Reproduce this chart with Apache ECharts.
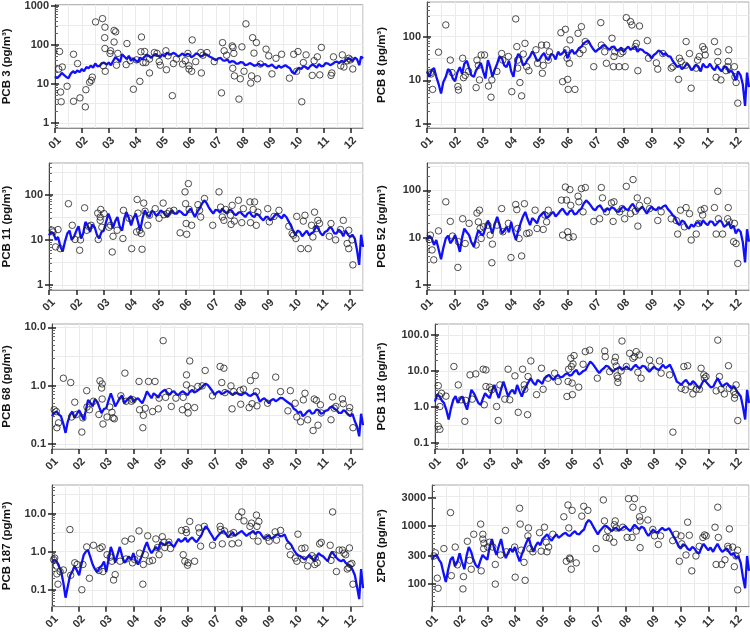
<!DOCTYPE html>
<html><head><meta charset="utf-8">
<script src="https://cdn.jsdelivr.net/npm/echarts@6/dist/echarts.min.js"></script>
<style>html,body{margin:0;padding:0;background:#fff}#c{width:750px;height:632px}</style>
</head><body><div id="c"></div>
<script>
// ---- tick labels ----
const monthTicks = [1,2,3,4,5,6,7,8,9,10,11,12];
const monthLabels = ['01','02','03','04','05','06','07','08','09','10','11','12'];

// ---- model line dates (month index) ----
const lineX = [
  1,1.08,1.17,1.25,1.33,1.42,1.5,1.58,1.67,1.75,1.83,1.92,
  2,2.08,2.17,2.25,2.33,2.42,2.5,2.58,2.67,2.75,2.83,2.92,
  3,3.08,3.17,3.25,3.33,3.42,3.5,3.58,3.67,3.75,3.83,3.92,
  4,4.08,4.17,4.25,4.33,4.42,4.5,4.58,4.67,4.75,4.83,4.92,
  5,5.08,5.17,5.25,5.33,5.42,5.5,5.58,5.67,5.75,5.83,5.92,
  6,6.08,6.17,6.25,6.33,6.42,6.5,6.58,6.67,6.75,6.83,6.92,
  7,7.08,7.17,7.25,7.33,7.42,7.5,7.58,7.67,7.75,7.83,7.92,
  8,8.08,8.17,8.25,8.33,8.42,8.5,8.58,8.67,8.75,8.83,8.92,
  9,9.08,9.17,9.25,9.33,9.42,9.5,9.58,9.67,9.75,9.83,9.92,
  10,10.08,10.17,10.25,10.33,10.42,10.5,10.58,10.67,10.75,10.83,10.92,
  11,11.08,11.17,11.25,11.33,11.42,11.5,11.58,11.67,11.75,11.83,11.92,
  12,12.08,12.17,12.25,12.33,12.4,12.47];

// ---- model lines (pg/m3), one row per month ----
const pcb3Line = [
  15.5,14,16,19,17,15,14,18,21,19,22,20,
  24,21,27,25,29,26,33,28,29,34,35,31,
  35,30,39,48,43,36,57,50,43,52,39,45,
  40,36,47,42,49,55,52,46,54,58,52,48,
  57,50,63,56,57,62,57,50,54,60,52,58,
  57,48,52,60,57,50,52,58,55,50,47,43,
  40,45,46,40,39,42,35,38,37,33,33,36,
  35,30,31,34,32,29,30,33,29,31,32,28,
  29,31,27,25,29,26,28,30,27,25,20,18,
  22,26,24,28,27,24,28,31,29,26,32,28,
  29,34,33,30,32,36,37,34,39,36,40,44,
  43,38,47,42,30,50,45];
const pcb8Line = [
  16,12,17.3,19,12.2,8,5,9,12,18,16,11,
  9.5,15,20,14,24,28,19,13,12,17,20,25,
  16,11,29,20,12,18,24,35,32,22,20,28,
  16,12,29,40,35,22,24,30,35,46,38,28,
  29,36,42,32,29,40,38,30,45,38,42,50,
  32,42,50,40,45,55,59,70,77,80,64,52,
  45,50,54,62,64,55,50,58,59,48,50,56,
  45,52,59,50,54,60,45,52,50,44,42,38,
  32,38,42,48,45,38,42,36,35,28,24,20,
  22,18,20,24,22,17,19,23,20,16,24,20,
  20,24,19,17,22,18,16,21,20,15,17,14,
  10,16,13,8,2.6,15,7];
const pcb11Line = [
  12.6,15,13.8,10,11.6,7,5.5,9,13.8,16,10,12,
  16,20,10.7,14,25,20,15,22,19,13,10.7,15,
  16,24,38,28,18,26,32,20,16,30,41,30,
  21,30,38,25,16,30,45,36,32,44,41,34,
  38,45,41,36,32,40,45,38,38,44,41,36,
  35,42,49,40,32,42,49,62,75,66,53,44,
  38,46,45,40,49,42,38,46,45,38,35,40,
  41,36,32,38,41,34,32,38,35,30,27,32,
  32,27,30,35,38,33,30,36,32,26,21,16,
  12.6,16,15,12,13.8,16,12.6,14,15,20,18,14,
  12.6,15,16,19,18,14,13.8,17,15,12,16,13,
  11.6,13,10.7,6,2.8,13,7];
const pcb52Line = [
  8.9,11,9.6,7,8.9,5.5,3.5,6,9.6,11,7.6,9,
  11.3,8,5,10,15.5,13,11.3,8,6.4,10,14.4,12,
  11.3,16,23,17,12.2,20,27.5,19,12.2,14,16.9,13,
  21.5,13,8.9,14,19.9,28,34.9,25,18.4,26,23.3,20,
  27.5,31,34.9,26,27.5,32,34.9,28,32,37,41,34,
  30,36,38,31,32,38,41,52,61,55,48,40,
  38,45,48,40,35,42,38,44,41,36,35,42,
  45,40,38,46,52,42,35,40,45,38,32,40,
  45,40,38,44,41,46,48,40,35,30,27.5,20,
  18.4,23,21.5,17,15.5,19,16.9,20,21.5,18,23.3,20,
  18.4,22,21.5,18,19.9,23,21.5,17,18.4,21,15.5,18,
  12.2,15,13.3,8,3.0,15,8.2];
const pcb68Line = [
  0.30,0.34,0.36,0.32,0.30,0.22,0.155,0.24,0.32,0.36,0.28,0.33,
  0.38,0.32,0.26,0.38,0.57,0.50,0.44,0.58,0.53,0.42,0.34,0.40,
  0.41,0.55,0.74,0.58,0.44,0.52,0.61,0.68,0.5,0.56,0.61,0.66,
  0.53,0.58,0.61,0.55,0.5,0.62,0.8,0.70,0.61,0.74,0.69,0.62,
  0.74,0.80,0.85,0.76,0.69,0.78,0.8,0.72,0.69,0.76,0.8,0.74,
  0.69,0.78,0.85,0.76,0.8,0.86,0.91,1.0,1.08,1.02,0.91,0.80,
  0.69,0.76,0.8,0.72,0.74,0.80,0.8,0.74,0.69,0.76,0.74,0.70,
  0.69,0.75,0.74,0.68,0.67,0.72,0.74,0.66,0.53,0.58,0.61,0.55,
  0.5,0.56,0.59,0.54,0.57,0.62,0.61,0.57,0.53,0.50,0.47,0.40,
  0.38,0.34,0.36,0.30,0.32,0.36,0.38,0.33,0.34,0.39,0.38,0.33,
  0.34,0.37,0.38,0.42,0.44,0.40,0.38,0.34,0.34,0.38,0.36,0.32,
  0.30,0.33,0.245,0.20,0.135,0.33,0.21];
const pcb118Line = [
  1.42,2.2,1.96,1.5,1.29,0.8,0.45,0.9,1.6,2.0,1.29,1.7,
  1.96,1.3,0.84,1.6,3,2.4,1.77,1.3,1.15,1.7,2.4,2.0,
  1.77,2.8,4.1,2.6,1.77,3.2,5.1,3.3,1.96,2.6,3,2.3,
  4.1,2.8,1.96,2.8,3.7,5.0,6.3,4.8,4.1,5.6,5.1,4.4,
  6.3,7.0,7.8,6.4,5.7,7.0,7.8,6.6,7,8.0,8.7,7.4,
  7.8,9.5,10.7,8.0,8.7,10.0,10.7,14.0,18.2,16.0,13.3,10.5,
  8.7,10.5,11.9,14.0,13.3,11.0,9.6,11.0,11.9,13.0,10.7,12.0,
  13.3,11.5,10.7,13.0,14.8,12.5,11.9,14.0,13.3,11.0,9.6,11.5,
  13.3,11.5,10.7,12.5,14.8,12.0,13.3,15.0,10.7,7.5,5.1,4.6,
  4.1,5.0,5.7,4.6,4.1,5.2,4.6,3.8,3.3,4.5,5.7,4.8,
  4.1,3.5,3.7,5.0,6.3,4.6,3.7,4.2,4.6,3.8,3.3,3.8,
  3,2.4,1.96,1.0,0.45,3.0,1.29];
const pcb187Line = [
  0.51,0.62,0.56,0.42,0.32,0.15,0.062,0.12,0.24,0.30,0.42,0.32,
  0.24,0.45,0.82,1.0,1.1,0.7,0.46,0.35,0.29,0.38,0.42,0.55,
  0.29,0.6,1.33,0.9,0.51,0.85,1.33,0.8,0.51,0.6,0.75,0.62,
  0.91,0.6,0.46,0.6,0.82,1.3,1.78,1.2,0.91,1.1,1.33,1.1,
  1.78,1.6,1.47,1.7,1.78,1.5,1.33,1.7,2.15,1.8,1.96,2.3,
  1.78,2.1,2.37,2.0,1.78,2.2,2.6,3.6,4.6,4.0,3.16,2.5,
  1.96,2.4,2.87,3.2,3.5,2.9,2.37,2.8,3.16,2.6,2.87,3.2,
  3.5,3.0,2.6,2.9,3.16,3.5,2.87,3.3,3.16,2.6,2.15,2.5,
  2.6,2.2,2.37,2.7,2.87,2.5,2.6,2.8,1.96,1.7,1.47,1.1,
  0.91,0.8,0.75,0.68,0.62,0.72,0.82,0.68,0.56,0.72,0.91,0.8,
  0.75,0.65,0.56,0.8,1.0,0.8,0.68,0.6,0.56,0.62,0.51,0.45,
  0.42,0.34,0.24,0.12,0.057,0.35,0.11];
const sumLine = [
  258,300,312,260,228,150,107,170,258,290,200,240,
  333,240,177,300,428,350,258,210,188,250,312,280,
  258,420,588,400,312,450,588,380,276,340,402,350,
  428,320,243,320,402,520,626,450,354,450,518,460,
  588,640,710,600,552,640,710,620,667,720,757,680,
  667,740,806,720,710,800,859,1100,1256,1150,975,820,
  710,820,915,1000,975,870,806,880,915,820,859,940,
  975,880,806,920,1038,940,859,960,915,760,667,760,
  859,780,757,850,915,840,859,900,757,640,552,440,
  402,480,456,400,377,430,402,350,333,420,486,420,
  377,420,354,420,486,400,354,380,402,350,312,340,
  276,300,228,130,83,300,166];

// ---- observations [month, pg/m3] ----
const pcb3Obs = [[1.17,67],[1.14,24],[1.27,27],[1.21,6.2],[1.23,3.5],[1.45,8.7],[1.69,57],[1.69,3.6],[1.84,33],[1.93,4.4],[2.13,2.6],[2.15,7.1],[2.29,11],[2.35,12.3],[2.39,14.9],[2.51,381],[2.77,462],[2.86,280],[2.85,151],[2.86,80],[2.87,21],[2.80,29],[3.05,60],[3.07,70],[3.20,231],[3.26,213],[3.20,117],[3.29,30],[3.34,60],[3.68,107],[3.65,31],[3.80,39],[3.92,7.3],[4.04,41],[4.16,11.6],[4.22,157],[4.20,66],[4.28,35],[4.34,67],[4.38,35],[4.52,19],[4.52,43],[4.70,63],[4.80,60],[4.88,37],[4.92,30],[5.13,70],[5.15,23],[5.21,52],[5.37,5],[5.41,33],[5.52,43],[5.75,32],[5.85,39],[5.95,60],[5.99,29],[5.99,24],[6.09,21],[6.11,132],[6.24,37],[6.43,63],[6.45,19],[6.51,54],[6.66,63],[6.93,37],[7.20,5.9],[7.24,113],[7.30,70],[7.39,54],[7.60,93],[7.63,85],[7.62,25],[7.68,16],[7.66,60],[7.90,13.5],[7.85,4.1],[7.96,88],[8.04,21],[8.11,340],[8.29,10.5],[8.32,16],[8.36,151],[8.41,61],[8.50,113],[8.54,13.5],[8.65,32],[8.86,77],[8.96,52],[9.08,18],[9.23,45],[9.44,57],[9.73,14],[9.89,57],[10.0,21],[10.05,67],[10.19,3.5],[10.25,35],[10.35,55],[10.58,16.5],[10.65,39],[10.77,49],[10.86,17],[10.92,85],[11.28,16.5],[11.31,19],[11.37,49],[11.64,29],[11.70,55],[11.76,27],[11.88,39],[11.94,45],[12.00,41],[12.09,24]];
const pcb8Obs = [[1.12,15],[1.15,14],[1.20,6.2],[1.41,44],[1.67,185],[1.83,29],[1.89,15],[2.10,7.2],[2.12,6],[2.27,32],[2.30,11.5],[2.36,13],[2.48,16],[2.75,6.8],[2.78,29],[2.83,22],[2.87,10.2],[2.93,38],[3.05,38],[3.19,7.4],[3.28,4.1],[3.31,10.2],[3.49,16],[3.66,41],[3.70,29],[3.90,35],[4.02,5.5],[4.16,254],[4.20,59],[4.23,29],[4.23,19],[4.31,8.9],[4.37,4.4],[4.43,40],[4.49,70],[4.55,20.5],[4.63,16.6],[4.88,50],[4.94,24.5],[5.08,64],[5.11,14.5],[5.14,22],[5.26,64],[5.32,29],[5.36,45],[5.77,123],[5.83,9.3],[5.93,147],[5.97,50],[5.99,32],[6.01,10.5],[6.03,6.2],[6.07,24.5],[6.09,84],[6.27,6.2],[6.38,119],[6.44,41],[6.50,169],[6.56,50],[6.64,77],[6.94,20.5],[7.19,209],[7.21,64],[7.33,45],[7.39,24.5],[7.59,92],[7.64,20.5],[7.66,35],[7.69,45],[7.84,20.5],[7.90,41],[7.98,45],[8.06,20.5],[8.10,272],[8.25,221],[8.30,185],[8.42,59],[8.46,70],[8.51,16.6],[8.57,175],[8.85,81],[8.89,32],[9.17,25],[9.22,18],[9.40,41],[9.70,19],[9.76,20.5],[9.96,10.5],[9.99,32],[10.05,27],[10.21,22],[10.23,77],[10.35,41],[10.41,6.6],[10.59,19],[10.64,29],[10.70,35],[10.82,59],[10.88,51],[10.91,38],[11.24,77],[11.30,11.7],[11.36,45],[11.36,27],[11.47,10.2],[11.65,16.6],[11.71,20.5],[11.73,27],[11.75,50],[11.95,20.5],[11.97,12],[12.01,8.9],[12.07,3.0]];
const pcb11Obs = [[1.12,16.3],[1.15,15],[1.24,7],[1.33,16.9],[1.41,6.4],[1.71,63],[1.85,21],[1.95,10.2],[2.12,5.9],[2.15,10],[2.30,51],[2.38,16.3],[2.44,20],[2.54,21],[2.78,39],[2.80,10.2],[2.87,32],[2.87,27],[2.89,47],[2.93,19],[3.01,38],[3.19,19],[3.25,21],[3.31,5.4],[3.34,12],[3.49,16.3],[3.70,10.7],[3.72,45],[3.93,30],[4.02,6.4],[4.20,15],[4.22,78],[4.25,39],[4.31,16.3],[4.37,13.8],[4.40,6.2],[4.46,65],[4.51,43],[4.61,21],[4.67,35],[4.88,49],[5.02,30],[5.17,65],[5.20,36],[5.32,38],[5.40,43],[5.56,45],[5.79,14.3],[5.97,115],[5.99,63],[6.01,23],[6.03,13.3],[6.09,175],[6.12,47],[6.21,21],[6.44,60],[6.50,45],[6.54,32],[6.68,82],[6.98,21],[7.21,115],[7.27,53],[7.33,32],[7.39,27],[7.45,47],[7.63,35],[7.65,22],[7.69,58],[7.77,26],[7.92,75],[8.04,24],[8.10,49],[8.34,69],[8.36,24],[8.46,47],[8.51,69],[8.57,21],[8.63,41],[8.99,49],[9.05,25],[9.22,33],[9.40,45],[9.76,20],[9.88,13.8],[9.93,12.7],[10.02,10.7],[10.05,33],[10.20,6.4],[10.29,26],[10.35,35],[10.47,6.4],[10.59,21],[10.64,11.6],[10.70,41],[10.76,17.8],[10.82,27],[10.88,23],[11.24,12],[11.30,23],[11.47,10],[11.65,16.9],[11.75,27],[11.89,8.3],[11.95,16.3],[11.95,6.4],[12.07,10],[12.10,2.8]];
const pcb52Obs = [[1.08,9.1],[1.12,11.3],[1.18,5.5],[1.24,3.4],[1.41,13.9],[1.67,57],[1.83,22],[1.91,10.8],[2.10,2.35],[2.12,8.2],[2.27,25],[2.36,7.5],[2.50,20],[2.75,7],[2.78,33],[2.83,21.5],[2.87,38],[2.89,15.6],[2.93,9.6],[3.01,16.9],[3.17,18.3],[3.25,11.3],[3.31,2.95],[3.33,7.3],[3.49,18.3],[3.66,41],[3.70,13.3],[3.90,20],[3.99,3.8],[4.16,50],[4.20,39],[4.23,15.6],[4.28,9.6],[4.37,4.1],[4.47,52],[4.55,12.2],[4.64,12.6],[4.85,38],[4.92,15.6],[5.14,14.9],[5.20,30],[5.26,21.5],[5.32,38],[5.79,62],[5.83,11.3],[5.93,117],[5.97,62],[6.01,13.3],[6.05,10.1],[6.09,103],[6.12,48],[6.21,10.4],[6.38,75],[6.41,57],[6.50,108],[6.56,35],[6.64,114],[6.94,22],[7.15,25],[7.21,114],[7.25,69],[7.39,35],[7.57,54],[7.63,22],[7.66,57],[7.86,35],[7.95,41],[8.04,25],[8.10,121],[8.25,32],[8.34,168],[8.42,36],[8.49,69],[8.51,17.5],[8.57,48],[8.85,60],[8.93,41],[9.22,23],[9.34,35],[9.70,25],[9.88,23],[9.93,11.9],[10.03,38],[10.17,16.9],[10.23,43],[10.35,32],[10.41,8.9],[10.59,11.9],[10.67,20],[10.76,38],[10.82,30],[10.88,41],[11.24,43],[11.30,11.9],[11.36,95],[11.38,25],[11.53,11.9],[11.71,25],[11.73,43],[11.77,21.5],[11.92,8.2],[11.95,20],[12.01,7.5],[12.07,2.85]];
const pcb68Obs = [[1.08,0.386],[1.16,0.36],[1.18,0.19],[1.24,0.23],[1.42,1.34],[1.69,1.13],[1.72,0.29],[1.84,0.52],[1.90,0.32],[2.10,0.16],[2.14,0.28],[2.28,0.82],[2.29,0.43],[2.38,0.386],[2.53,0.54],[2.73,0.32],[2.77,1.21],[2.83,0.91],[2.85,1.07],[2.88,0.22],[2.85,0.59],[3.03,0.29],[3.13,0.43],[3.21,0.35],[3.25,0.28],[3.30,0.27],[3.54,0.67],[3.69,1.64],[3.73,0.54],[3.93,0.54],[3.99,0.57],[4.21,1.18],[4.23,0.386],[4.35,0.19],[4.37,0.31],[4.44,0.41],[4.56,1.18],[4.71,0.36],[4.80,1.18],[4.92,0.40],[4.95,0.61],[5.10,5.9],[5.19,0.63],[5.31,0.79],[5.40,0.44],[5.57,0.61],[5.81,0.386],[5.84,0.63],[5.96,1.53],[5.96,1.03],[6.00,0.44],[6.02,0.34],[6.08,2.65],[6.14,0.88],[6.26,0.42],[6.38,0.97],[6.54,0.99],[6.65,1.82],[6.92,0.67],[7.20,2.13],[7.26,1.13],[7.34,1.99],[7.38,0.76],[7.60,0.99],[7.64,0.40],[7.70,0.79],[7.94,0.83],[7.96,0.48],[8.06,0.87],[8.27,0.42],[8.32,1.22],[8.38,0.49],[8.50,1.49],[8.54,0.79],[8.56,0.45],[8.95,0.50],[9.25,1.40],[9.43,0.79],[9.70,0.37],[9.79,0.82],[9.97,0.50],[10.03,0.29],[10.17,0.24],[10.27,0.57],[10.33,0.74],[10.43,0.26],[10.63,0.17],[10.67,0.59],[10.75,0.56],[10.81,0.21],[10.90,0.47],[10.93,0.34],[11.29,0.26],[11.35,0.64],[11.41,0.41],[11.47,0.44],[11.71,0.59],[11.74,0.49],[11.95,0.36],[11.98,0.42],[12.10,0.19]];
const pcb118Obs = [[1.12,3.9],[1.16,2.0],[1.18,1.03],[1.12,0.29],[1.18,0.24],[1.24,2.4],[1.40,2.0],[1.69,13.3],[1.85,4.1],[1.95,1.58],[2.09,0.40],[2.12,1.52],[2.28,7.8],[2.36,1.65],[2.49,8.3],[2.76,11.2],[2.86,10.7],[2.80,1.15],[2.86,3.7],[3.00,3.55],[3.07,3.0],[3.25,1.03],[3.31,0.42],[3.37,4.1],[3.55,1.65],[3.67,11.2],[3.73,1.58],[3.92,7.3],[4.04,0.71],[4.20,11.2],[4.26,4.1],[4.28,3.1],[4.38,0.61],[4.40,7],[4.50,19],[4.71,2.2],[4.89,11.9],[4.95,3.1],[5.13,6.3],[5.37,8.7],[5.50,5.1],[5.82,1.96],[5.86,5.1],[5.88,11.2],[5.96,22.6],[5.98,13.3],[6.01,4.6],[6.02,2.2],[6.04,15.7],[6.08,26.8],[6.25,3.55],[6.41,15.4],[6.49,34.5],[6.65,38],[6.93,6.3],[7.20,36],[7.22,25],[7.38,9.6],[7.56,18.2],[7.59,24],[7.62,13.8],[7.65,7.3],[7.68,6.3],[7.68,4.8],[7.80,10],[7.83,68],[7.99,13.3],[8.11,31],[8.23,22.6],[8.29,25],[8.35,34.5],[8.41,9.2],[8.47,28],[8.53,6.3],[8.84,20],[8.90,13.3],[9.20,19],[9.26,8.7],[9.57,7.8],[9.69,0.2],[9.99,3.3],[10.09,13.3],[10.14,3.0],[10.23,14],[10.36,3.7],[10.42,2.3],[10.54,3.1],[10.66,3.1],[10.72,11.9],[10.82,7.8],[10.84,6.3],[10.90,7],[11.27,2.8],[11.33,72],[11.39,7],[11.45,3.1],[11.57,2.3],[11.72,14],[11.75,3.3],[11.91,2.7],[11.94,1.76],[11.96,2.2],[12.00,4.1],[12.06,0.42]];
const pcb187Obs = [[1.06,0.62],[1.10,0.68],[1.16,0.42],[1.18,0.26],[1.22,0.14],[1.30,0.30],[1.42,0.33],[1.66,3.8],[1.69,0.24],[1.84,0.51],[1.93,0.46],[2.10,0.10],[2.14,0.46],[2.28,1.33],[2.38,0.20],[2.53,1.47],[2.73,0.32],[2.77,1.21],[2.85,1.33],[2.88,0.30],[3.03,0.83],[3.15,0.72],[3.21,0.56],[3.27,0.18],[3.33,0.25],[3.51,0.56],[3.69,1.88],[3.73,0.64],[3.93,2.15],[3.97,0.51],[4.05,0.62],[4.21,3.5],[4.23,0.91],[4.35,0.14],[4.37,0.46],[4.44,0.83],[4.53,2.6],[4.59,0.56],[4.71,0.59],[4.83,2.15],[4.89,1.28],[4.95,0.83],[5.07,2.46],[5.13,1.78],[5.16,1.28],[5.31,1.78],[5.37,1.21],[5.78,3.6],[5.84,0.83],[5.90,0.56],[5.94,3.8],[5.96,3.16],[6.00,0.44],[6.02,0.51],[6.08,6.2],[6.26,0.56],[6.41,4.2],[6.44,3.16],[6.48,1.39],[6.62,4.6],[6.92,1.47],[7.20,4.6],[7.22,3.8],[7.28,1.6],[7.36,3.5],[7.60,2.87],[7.64,1.6],[7.70,3.16],[7.88,1.68],[7.88,8.3],[8.00,11],[8.08,6.4],[8.30,4.6],[8.36,5.6],[8.42,2.6],[8.54,9.1],[8.56,4.6],[8.63,6.2],[8.60,1.88],[8.95,2.37],[9.01,1.88],[9.23,3.3],[9.28,2.0],[9.43,3.6],[9.73,1.39],[9.79,0.83],[9.97,0.68],[10.03,0.56],[10.07,2.87],[10.21,1.21],[10.27,0.62],[10.33,1.25],[10.43,0.42],[10.59,0.78],[10.69,0.46],[10.71,0.68],[10.78,0.51],[10.87,1.6],[10.93,1.75],[11.26,1.47],[11.29,0.59],[11.35,11],[11.38,0.83],[11.49,0.30],[11.59,1.1],[11.71,1.1],[11.77,0.91],[11.83,0.83],[11.89,0.35],[11.95,0.38],[11.97,1.25],[12.00,0.46],[12.06,0.49],[12.10,0.14]];
const sumObs = [[1.07,300],[1.12,341],[1.19,124],[1.22,83],[1.43,402],[1.67,1680],[1.70,137],[1.84,428],[1.92,211],[2.12,81],[2.14,132],[2.28,538],[2.36,252],[2.42,177],[2.51,711],[2.76,1065],[2.78,166],[2.84,588],[2.84,711],[2.87,402],[2.88,499],[3.02,428],[3.08,518],[3.20,428],[3.29,214],[3.29,98],[3.48,312],[3.66,827],[3.69,354],[3.99,428],[4.01,129],[4.17,2000],[4.19,1065],[4.23,378],[4.33,233],[4.37,114],[4.47,667],[4.49,915],[4.54,402],[4.65,354],[4.89,757],[4.95,363],[5.07,940],[5.13,518],[5.16,354],[5.22,428],[5.37,711],[5.77,1425],[5.86,243],[5.92,2275],[5.95,915],[5.98,276],[6.00,265],[6.04,177],[6.07,1837],[6.22,228],[6.42,1462],[6.49,2161],[6.64,1837],[6.94,402],[7.20,2785],[7.24,1209],[7.30,627],[7.36,827],[7.42,611],[7.58,518],[7.60,1038],[7.63,1209],[7.66,915],[7.90,940],[8.06,627],[8.11,2930],[8.24,627],[8.27,2084],[8.33,2930],[8.39,807],[8.51,1425],[8.53,1209],[8.53,418],[8.63,1905],[8.81,1255],[8.99,860],[9.05,667],[9.19,474],[9.27,667],[9.71,552],[9.83,711],[9.95,243],[10.01,667],[10.04,486],[10.19,312],[10.25,1149],[10.31,684],[10.40,166],[10.55,300],[10.67,440],[10.80,627],[10.86,693],[10.92,667],[11.24,940],[11.28,214],[11.34,2084],[11.36,627],[11.48,214],[11.60,258],[11.70,440],[11.73,402],[11.76,880],[11.88,428],[11.94,196],[12.00,300],[12.06,378],[12.06,78]];

// ---- y tick labels per panel ----
const ticks3 = [1,10,100,1000];
const ticks8 = [1,10,100];
const ticks11 = [1,10,100];
const ticks52 = [1,10,100];
const ticks68 = [0.1,1,10];
const ticks118 = [0.1,1,10,100];
const ticks187 = [0.1,1,10];
const ticksSum = [100,300,1000,3000];

// ---- panel layout ----
const panels = [
  {name:'PCB 3 (pg/m³)',  line:pcb3Line,  obs:pcb3Obs,  ticks:ticks3,  dec:0, ymin:0.75,  ymax:1050, box:[46,3,317,125],  gap:42},
  {name:'PCB 8 (pg/m³)',  line:pcb8Line,  obs:pcb8Obs,  ticks:ticks8,  dec:0, ymin:0.81,  ymax:620,  box:[427,2,322,126], gap:39},
  {name:'PCB 11 (pg/m³)', line:pcb11Line, obs:pcb11Obs, ticks:ticks11, dec:0, ymin:0.78,  ymax:500,  box:[40,163,323,127], gap:36},
  {name:'PCB 52 (pg/m³)', line:pcb52Line, obs:pcb52Obs, ticks:ticks52, dec:0, ymin:0.785, ymax:376,  box:[427,163,322,127], gap:39},
  {name:'PCB 68 (pg/m³)', line:pcb68Line, obs:pcb68Obs, ticks:ticks68, dec:1, ymin:0.082, ymax:11.4, box:[43,324,320,125], gap:39},
  {name:'PCB 118 (pg/m³)',line:pcb118Line,obs:pcb118Obs,ticks:ticks118,dec:1, ymin:0.068, ymax:202,  box:[435,324,314,125], gap:47},
  {name:'PCB 187 (pg/m³)',line:pcb187Line,obs:pcb187Obs,ticks:ticks187,dec:1, ymin:0.036, ymax:56,   box:[43,485,320,128], gap:39},
  {name:'ΣPCB (pg/m³)',   line:sumLine,   obs:sumObs,   ticks:ticksSum, dec:0, ymin:40,    ymax:5040, box:[432,485,317,128], gap:44}
];

const FONT = '"Liberation Sans", Arial, Helvetica, sans-serif';
const L = Math.log10;
const grids = [], xAxes = [], yAxes = [], series = [];

panels.forEach((p, i) => {
  const lo = L(p.ymin), hi = L(p.ymax);
  const labVals = p.ticks.map(L);
  const gridVals = [], minorVals = [];
  for (let d = Math.floor(lo) - 1; d <= Math.ceil(hi); d++) {
    gridVals.push(d, d + 0.5);
    for (let k = 2; k <= 9; k++) minorVals.push(d + L(k));
  }
  grids.push({left:p.box[0], top:p.box[1], width:p.box[2], height:p.box[3],
    show:true, borderColor:'#a9a9a9', borderWidth:1, backgroundColor:'#ffffff'});

  xAxes.push({type:'value', gridIndex:i, min:1, max:12.47, position:'bottom',
    axisLine:{show:true, onZero:false, lineStyle:{color:'#8c8c8c', width:1}},
    axisTick:{show:true, length:5, customValues:monthTicks, lineStyle:{color:'#222', width:1.5}},
    axisLabel:{show:true, customValues:monthTicks, rotate:45, align:'center', verticalAlign:'middle', margin:15,
      formatter: v => monthLabels[Math.round(v) - 1], color:'#333', fontSize:11, fontWeight:'bold', fontFamily:FONT},
    splitLine:{show:false}});
  xAxes.push({type:'value', gridIndex:i, min:1, max:12.47, interval:0.5, position:'bottom',
    axisLine:{show:false, onZero:false}, axisTick:{show:false}, axisLabel:{show:false},
    splitLine:{show:true, lineStyle:{color:'#ebebeb', width:1}}});

  const base = {type:'value', gridIndex:i, min:lo, max:hi, position:'left',
    axisLine:{show:false, onZero:false}, axisTick:{show:false}, axisLabel:{show:false}, splitLine:{show:false}};
  yAxes.push(Object.assign({}, base, {
    axisTick:{show:false, customValues:gridVals}, axisLabel:{show:false, customValues:gridVals},
    splitLine:{show:true, lineStyle:{color:'#ebebeb', width:1}}}));
  yAxes.push(Object.assign({}, base, {
    name:p.name, nameLocation:'middle', nameGap:p.gap,
    nameTextStyle:{color:'#111', fontSize:11.5, fontWeight:'bold', fontFamily:FONT},
    axisLine:{show:true, onZero:false, lineStyle:{color:'#444', width:1}},
    axisTick:{show:true, length:4, customValues:labVals, lineStyle:{color:'#222', width:1.5}},
    axisLabel:{show:true, customValues:labVals, margin:6, color:'#333', fontSize:11, fontWeight:'bold', fontFamily:FONT,
      formatter: v => Math.pow(10, v).toFixed(p.dec)}}));
  yAxes.push(Object.assign({}, base, {
    axisTick:{show:true, inside:true, length:4, customValues:labVals, lineStyle:{color:'#222', width:1.5}}}));
  yAxes.push(Object.assign({}, base, {
    axisTick:{show:true, inside:true, length:3, customValues:minorVals, lineStyle:{color:'#666', width:1}}}));

  series.push({type:'line', xAxisIndex:2*i, yAxisIndex:4*i+1,
    data: lineX.map((x, k) => [x, L(p.line[k])]),
    showSymbol:false, symbol:'none', lineStyle:{color:'#1010ff', width:2.3}, z:3, silent:true});
  series.push({type:'scatter', xAxisIndex:2*i, yAxisIndex:4*i+1,
    data: p.obs.map(d => [d[0], L(d[1])]),
    symbol:'circle', symbolSize:6.5,
    itemStyle:{color:'rgba(0,0,0,0)', borderColor:'#222', borderWidth:1}, z:4, silent:true});
});

const chart = echarts.init(document.getElementById('c'), null, {renderer:'canvas'});
chart.setOption({animation:false, backgroundColor:'#ffffff', grid:grids, xAxis:xAxes, yAxis:yAxes, series:series});
</script>
</body></html>
